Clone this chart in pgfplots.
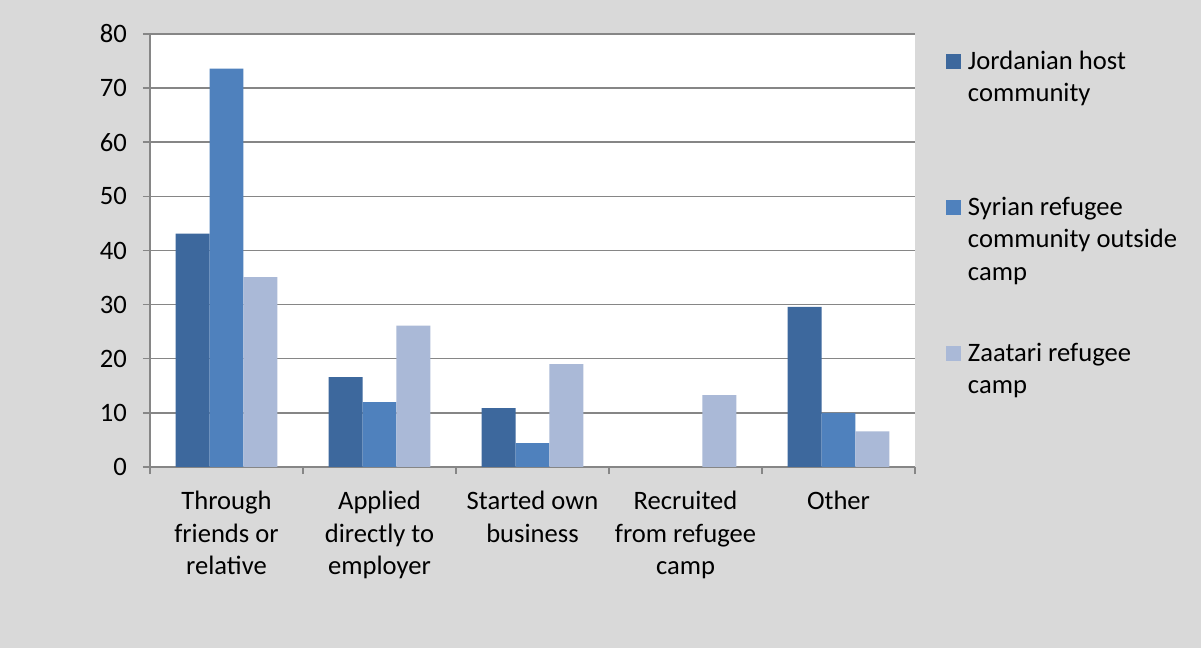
\documentclass[border=0pt]{standalone}
\usepackage{fontspec}
\setmainfont{Carlito}
\usepackage{pgfplots}
\pgfplotsset{compat=1.18}
\definecolor{bgc}{HTML}{D9D9D9}
\definecolor{cA}{HTML}{3D689D}
\definecolor{cB}{HTML}{4F81BD}
\definecolor{cC}{HTML}{AAB9D7}
\definecolor{gridc}{HTML}{868686}
\newcommand{\cf}{\fontsize{13.3bp}{16.3bp}\selectfont}
\newcommand{\legtext}[1]{\parbox[t]{140bp}{\cf\raggedright\strut #1}}
\begin{document}
\begin{tikzpicture}
\fill[bgc] (0,0) rectangle (600.5bp,324bp);
\path[use as bounding box] (0,0) rectangle (600.5bp,324bp);
\begin{axis}[
  at={(75bp,90.5bp)}, anchor=south west,
  scale only axis, width=382.5bp, height=216.5bp,
  axis background/.style={fill=white},
  xmin=-0.5, xmax=4.5, ymin=0, ymax=80,
  ytick={0,10,...,80},
  xtick={0,1,2,3,4},
  xticklabels={{Through\\friends or\\relative},{Applied\\directly to\\employer},{Started own\\business},{Recruited\\from refugee\\camp},{Other}},
  minor xtick={-0.5,0.5,...,4.5},
  axis x line*=bottom, axis y line*=left,
  axis line style={draw=gridc, line width=0.75bp, -},
  ymajorgrids, grid style={draw=gridc, line width=0.75bp},
  tick align=outside,
  major tick length=3.5bp, minor tick length=3.5bp,
  major x tick style={draw=none},
  minor x tick style={draw=gridc, line width=0.75bp},
  ytick style={draw=gridc, line width=0.75bp},
  /pgf/number format/assume math mode=true,
  tick label style={font=\cf, text=black},
  xticklabel style={align=center, yshift=-5bp},
  yticklabel style={xshift=-4.5bp},
  ybar, bar width=0.222,
  legend style={at={(1.0405,0.9718)}, anchor=north west, draw=none, fill=none,
    inner sep=0pt, outer sep=0pt, row sep=0pt, column sep=3.5bp,
    cells={anchor=base west},
    nodes={inner sep=0pt, text height=11.4bp, text depth=61.6bp}},
]
\addplot[fill=cA, draw=none, bar shift=-0.222,
  legend image code/.code={\fill[fill=cA] (0bp,0bp) rectangle (7.5bp,7.5bp);}]
  coordinates {(0,43.1) (1,16.6) (2,10.9) (3,0) (4,29.6)};
\addlegendentry{\legtext{Jordanian host\\community}}
\addplot[fill=cB, draw=none, bar shift=0,
  legend image code/.code={\fill[fill=cB] (0bp,0bp) rectangle (7.5bp,7.5bp);}]
  coordinates {(0,73.6) (1,12.0) (2,4.4) (3,0) (4,10.0)};
\addlegendentry{\legtext{Syrian refugee\\community outside\\camp}}
\addplot[fill=cC, draw=none, bar shift=0.222,
  legend image code/.code={\fill[fill=cC] (0bp,0bp) rectangle (7.5bp,7.5bp);}]
  coordinates {(0,35.1) (1,26.1) (2,19.0) (3,13.3) (4,6.6)};
\addlegendentry{\legtext{Zaatari refugee\\camp}}
\end{axis}
\end{tikzpicture}
\end{document}
